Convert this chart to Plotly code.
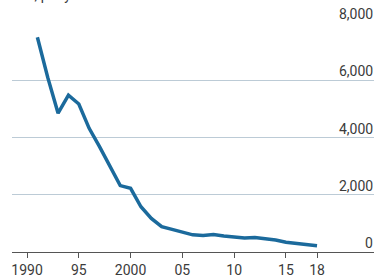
import plotly.graph_objects as go

years = list(range(1991, 2019))
values = [7500, 6100, 4850, 5480, 5170, 4320, 3680, 2980, 2320, 2225,
          1580, 1175, 885, 790, 690, 600, 580, 615, 560, 510,
          490, 510, 465, 420, 340, 300, 255, 220]

x_tickvals = [1990, 1995, 2000, 2005, 2010, 2015, 2018]
x_ticktext = ["1990", "95", "2000", "05", "10", "15", "18"]
y_tickvals = [0, 2000, 4000, 6000, 8000]
y_ticktext = ["0", "2,000", "4,000", "6,000", "8,000"]
title_text = "Fires, per year"

FONT = "Roboto"
TXT = "#3b3b3b"

fig = go.Figure()
fig.add_trace(go.Scatter(
    x=years, y=values, mode="lines",
    line=dict(color="#1b6a9c", width=3.5),
    hoverinfo="skip", showlegend=False,
))

annotations = [
    dict(x=1, xref="paper", xanchor="right", y=v, yref="y", yanchor="bottom",
         text=t, showarrow=False, borderpad=0, yshift=0,
         font=dict(family=FONT, size=14, color=TXT))
    for v, t in zip(y_tickvals, y_ticktext)
]
annotations.append(dict(
    x=-9 / 362, xref="paper", xanchor="left",
    y=(252 - 4) / 229, yref="paper", yanchor="bottom",
    text=title_text, showarrow=False, borderpad=0,
    font=dict(family=FONT, size=14, color=TXT)))

fig.update_layout(
    width=377, height=279,
    margin=dict(l=12, r=3, t=23, b=27, autoexpand=False),
    paper_bgcolor="white", plot_bgcolor="white",
    font=dict(family=FONT, size=14, color=TXT),
    annotations=annotations,
    xaxis=dict(
        range=[1988.55, 2023.5],
        tickvals=x_tickvals, ticktext=x_ticktext,
        ticks="outside", ticklen=5, tickwidth=1, tickcolor="#555555",
        showline=True, linecolor="#555555", linewidth=1,
        showgrid=False, zeroline=False, automargin=False,
        tickfont=dict(family=FONT, size=14, color=TXT),
    ),
    yaxis=dict(
        range=[0, 8000], side="right",
        tickvals=y_tickvals, showticklabels=False,
        ticks="", showline=False, zeroline=False, automargin=False,
        showgrid=True, gridcolor="#bccbd6", gridwidth=1,
    ),
)

fig.write_html(
    "out.html",
    config={"displayModeBar": False},
    post_script="document.body.style.margin='0';document.body.style.overflow='hidden';",
)
